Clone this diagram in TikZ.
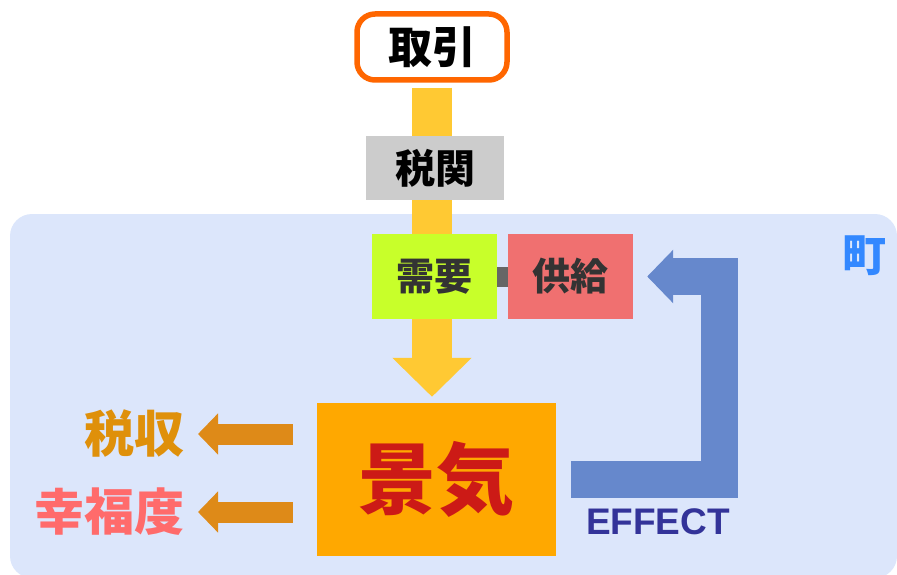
\documentclass[tikz,border=0pt]{standalone}
\usepackage{fontspec}
\setmainfont{Liberation Sans}
\newfontfamily\jpfont{Noto Sans CJK JP}
\usetikzlibrary{arrows.meta,backgrounds}

\definecolor{townbg}{HTML}{DCE6FB}
\definecolor{tradeorange}{HTML}{FF6600}
\definecolor{flowyellow}{HTML}{FFC933}
\definecolor{customsgray}{HTML}{CCCCCC}
\definecolor{demandlime}{HTML}{C8FF2A}
\definecolor{supplyred}{HTML}{F07070}
\definecolor{economyorange}{HTML}{FFA800}
\definecolor{economyred}{HTML}{CC1A16}
\definecolor{outarrow}{HTML}{DE8A18}
\definecolor{taxorange}{HTML}{DF900A}
\definecolor{happypink}{HTML}{FF6B6B}
\definecolor{effectblue}{HTML}{6688CC}
\definecolor{effecttext}{HTML}{333399}
\definecolor{townblue}{HTML}{3388FF}

\tikzset{
  box/.style={inner sep=0pt, font=\jpfont\bfseries\fontsize{38}{38}\selectfont, text=black!80},
  outtext/.style={inner sep=0pt, anchor=east, font=\jpfont\bfseries\fontsize{50}{50}\selectfont},
  outarr/.style={line width=21pt, outarrow, -{Triangle[width=40pt,length=20pt]}},
}

\begin{document}
\begin{tikzpicture}[x=1pt,y=-1pt]
    \useasboundingbox (0,0) rectangle (897,575);

    \node[box, draw=tradeorange, line width=5.5pt, rounded corners=18pt, fill=white,
          minimum width=150pt, minimum height=66pt, text=black,
          font=\jpfont\bfseries\fontsize{44}{44}\selectfont] (torihiki) at (432,47) {取引};
    \node[box, fill=customsgray, minimum width=138pt, minimum height=63pt, text=black,
          font=\jpfont\bfseries\fontsize{40}{40}\selectfont] (kanzei) at (435,168) {税関};
    \node[box, fill=demandlime, minimum width=125pt, minimum height=85pt] (juyo) at (434.5,276.5) {需要};
    \node[box, fill=supplyred, minimum width=125pt, minimum height=85pt] (kyokyu) at (570.5,276.5) {供給};
    \node[box, fill=economyorange, minimum width=239pt, minimum height=153pt, text=economyred,
          font=\jpfont\bfseries\fontsize{78}{78}\selectfont] (keiki) at (436.5,479.5) {景気};

    \node[outtext, text=taxorange] (zeishu) at (185,434) {税収};
    \node[outtext, text=happypink] (kofuku) at (185,512) {幸福度};

    \node[inner sep=0pt, text=effecttext, font=\bfseries\fontsize{37}{37}\selectfont] (effect) at (658,522) {EFFECT};
    \node[inner sep=0pt, text=townblue, font=\jpfont\bfseries\fontsize{44}{44}\selectfont] (machi) at (864,256) {町};

    \begin{scope}[on background layer]
        % town area
        \fill[townbg, rounded corners=22pt] (10,214) rectangle (897,578);
        % trade flow
        \draw[line width=40pt, flowyellow, -{Triangle[width=77pt,length=39pt]},
              shorten <=5pt, shorten >=6pt] (torihiki.south) -- (torihiki.south |- keiki.north);
        \draw[line width=20pt, black!60] (juyo.east) -- (kyokyu.west);
        % feedback
        \draw[line width=37pt, effectblue, line join=miter, -{Triangle[width=52pt,length=26pt]},
              shorten >=14pt] ([xshift=15pt]keiki.east) -| ([xshift=86pt]kyokyu.east) -- (kyokyu.east);
    \end{scope}

    \draw[outarr, shorten <=24pt, shorten >=13pt] (keiki.west |- zeishu.east) -- (zeishu.east);
    \draw[outarr, shorten <=24pt, shorten >=13pt] (keiki.west |- kofuku.east) -- (kofuku.east);
\end{tikzpicture}
\end{document}
